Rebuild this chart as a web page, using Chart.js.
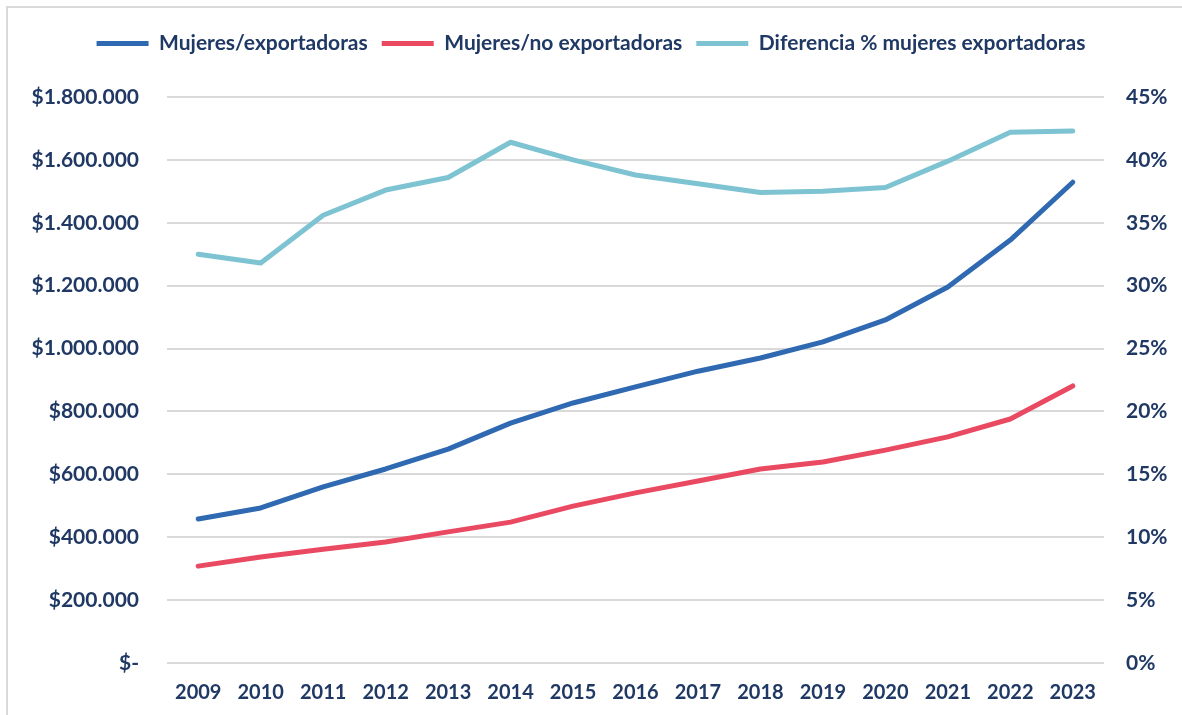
<!DOCTYPE html>
<html>
<head>
<meta charset="utf-8">
<script src="https://cdn.jsdelivr.net/npm/chart.js@4/dist/chart.umd.min.js"></script>
<style>
  html, body { margin: 0; padding: 0; background: #ffffff; overflow: hidden; }
  #frame { position: absolute; left: 6px; top: 6px; width: 1300px; height: 900px; border: 2px solid #d9d9d9; box-sizing: border-box; }
  #wrap { position: absolute; left: 0; top: 0; width: 1182px; height: 715px; }
</style>
</head>
<body>
<div id="frame"></div>
<div id="wrap"><canvas id="c" width="1182" height="715"></canvas></div>
<script>
const years = ["2009","2010","2011","2012","2013","2014","2015","2016","2017","2018","2019","2020","2021","2022","2023"];
const mujeresExportadoras = [458000, 493000, 560000, 617000, 680000, 763000, 827000, 878000, 928000, 970000, 1021000, 1091000, 1196000, 1345000, 1529000];
const mujeresNoExportadoras = [308000, 337000, 362000, 385000, 417000, 448000, 499000, 541000, 579000, 617000, 639000, 677000, 719000, 776000, 881000];
const diferenciaPct = [32.5, 31.8, 35.6, 37.6, 38.6, 41.4, 40.0, 38.8, 38.1, 37.4, 37.5, 37.8, 39.9, 42.2, 42.3];
const seriesNames = ["Mujeres/exportadoras", "Mujeres/no exportadoras", "Diferencia % mujeres exportadoras"];

const textColor = "#1F3864";
const fontFamily = "Lato, 'Open Sans', sans-serif";

function fmtMoney(v) {
  if (v === 0) return "$-";
  return "$" + String(Math.round(v)).replace(/\B(?=(\d{3})+(?!\d))/g, ".");
}

const lineStyle = { borderWidth: 5, pointRadius: 0, pointHoverRadius: 0, tension: 0, borderCapStyle: 'round', borderJoinStyle: 'round', fill: false, pointStyle: 'line' };

const legendSpacer = {
  id: 'legendSpacer',
  beforeInit(chart) {
    const orig = chart.legend.fit;
    chart.legend.fit = function () {
      orig.call(this);
      this.height += 33;
    };
  }
};

new Chart(document.getElementById('c'), {
  type: 'line',
  data: {
    labels: years,
    datasets: [
      Object.assign({ label: seriesNames[0], data: mujeresExportadoras, borderColor: '#2F69B2', backgroundColor: '#2F69B2', yAxisID: 'y' }, lineStyle),
      Object.assign({ label: seriesNames[1], data: mujeresNoExportadoras, borderColor: '#E94A62', backgroundColor: '#E94A62', yAxisID: 'y' }, lineStyle),
      Object.assign({ label: seriesNames[2], data: diferenciaPct, borderColor: '#7DC3D1', backgroundColor: '#7DC3D1', yAxisID: 'y2' }, lineStyle)
    ]
  },
  plugins: [legendSpacer],
  options: {
    responsive: false,
    animation: false,
    layout: { padding: { top: 19, left: 0, right: 0, bottom: 0 } },
    plugins: {
      tooltip: { enabled: false },
      legend: {
        position: 'top',
        labels: {
          usePointStyle: true,
          pointStyleWidth: 52,
          boxHeight: 6,
          padding: 14,
          color: textColor,
          font: { family: fontFamily, size: 21, weight: 'bold' }
        }
      }
    },
    scales: {
      x: {
        offset: true,
        grid: { display: false, drawTicks: false },
        border: { display: false },
        ticks: { color: textColor, padding: 18, maxRotation: 0, autoSkip: false, font: { family: fontFamily, size: 20, weight: 'bold' } },
        afterFit: (s) => { s.height = 52; }
      },
      y: {
        position: 'left',
        min: 0, max: 1800000,
        ticks: { stepSize: 200000, color: textColor, padding: 28, callback: (v) => fmtMoney(v), font: { family: fontFamily, size: 21, weight: 'bold' } },
        grid: { color: '#d9d9d9', lineWidth: 2, drawTicks: false },
        border: { display: false },
        afterFit: (s) => { s.width = 167; }
      },
      y2: {
        position: 'right',
        min: 0, max: 45,
        ticks: { stepSize: 5, color: textColor, padding: 22, callback: (v) => v + "%", font: { family: fontFamily, size: 21, weight: 'bold' } },
        grid: { display: false, drawTicks: false },
        border: { display: false },
        afterFit: (s) => { s.width = 78; }
      }
    }
  }
});
</script>
</body>
</html>
